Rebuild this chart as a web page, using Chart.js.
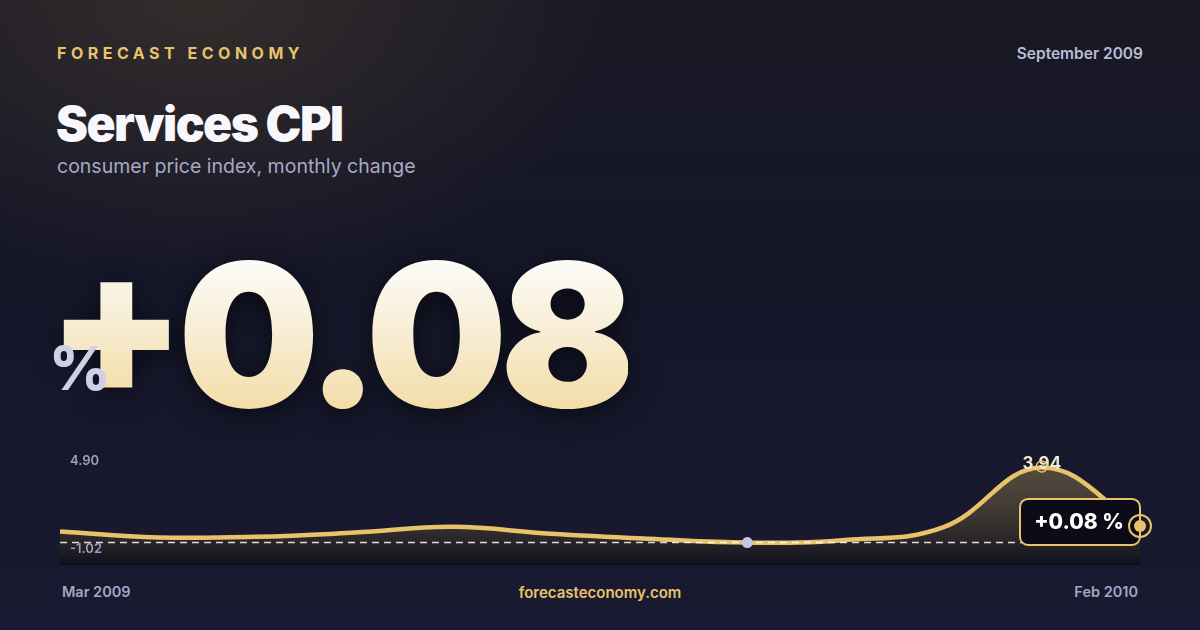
<!DOCTYPE html>
<html>
<head>
<meta charset="utf-8">
<script src="https://cdn.jsdelivr.net/npm/chart.js@4.4.1/dist/chart.umd.min.js"></script>
<style>
  html, body { margin: 0; padding: 0; }
  body {
    width: 1200px; height: 630px; overflow: hidden; position: relative;
    font-family: Inter, "Noto Sans", sans-serif;
    background:
      radial-gradient(ellipse 560px 380px at 200px 0px, rgba(120, 95, 60, 0.28), rgba(120, 95, 60, 0) 75%),
      linear-gradient(180deg, #191925 0%, #151628 45%, #191a31 100%);
  }
  .brand { position: absolute; left: 57px; top: 43px; font-size: 16px; font-weight: 700; letter-spacing: 4.5px; color: #e8c36a; }
  .date { position: absolute; right: 57px; top: 44px; font-size: 15.5px; font-weight: 600; color: #b9bcd6; }
  .title { position: absolute; left: 56px; top: 94px; font-size: 48px; font-weight: 900; color: #f8f8fc; letter-spacing: -1.5px; line-height: 60px; }
  .sub { position: absolute; left: 57px; top: 154px; font-size: 19.5px; font-weight: 400; color: #a7a9c7; }
  .big {
    position: absolute; left: 47px; top: 234px; font-size: 200px; font-weight: 900; line-height: 1;
    letter-spacing: -8px; white-space: nowrap;
    filter: drop-shadow(0 6px 14px rgba(0, 0, 0, 0.55));
  }
  .big span {
    display: inline-block;
    background: linear-gradient(180deg, #fdfcfa 12%, #f6e9c8 60%, #f2d899 100%);
    -webkit-background-clip: text; background-clip: text; color: transparent;
  }
  .big .plus { position: relative; top: -13px; }
  .pct { position: absolute; left: 49px; top: 338px; font-size: 60px; font-weight: 800; color: #cdd0e6; line-height: 1; }
  .chartbox { position: absolute; left: 40px; top: 440px; width: 1120px; height: 135px; }
  .foot { position: absolute; top: 583px; font-size: 14.5px; font-weight: 600; color: #a3a6c4; }
</style>
</head>
<body>
<div class="brand">FORECAST ECONOMY</div>
<div class="date">September 2009</div>
<div class="title">Services CPI</div>
<div class="sub">consumer price index, monthly change</div>
<div class="big"><span class="plus">+</span><span>0.08</span></div>
<div class="pct">%</div>
<div class="chartbox"><canvas id="spark"></canvas></div>
<div class="foot" style="left:62px">Mar 2009</div>
<div class="foot" style="left:0;width:1200px;text-align:center;color:#e8c36a;font-size:15px">forecasteconomy.com</div>
<div class="foot" style="right:62px">Feb 2010</div>

<script>
// monthly change, Mar 2009 .. Feb 2010
const months = ['Mar 2009', 'Apr 2009', 'May 2009', 'Jun 2009', 'Jul 2009', 'Aug 2009',
                'Sep 2009', 'Oct 2009', 'Nov 2009', 'Dec 2009', 'Jan 2010', 'Feb 2010'];
const cpiChange = [-0.29, -0.68, -0.64, -0.36, 0.02, -0.44, -0.77, -1.02, -0.85, 0.0, 3.94, 0.08];
const axisTop = 4.90;
const axisBottom = -2.5;

const GOLD = '#e8c36a';

// markers, min line, value labels and the current-value badge
const sparkDecor = {
  id: 'sparkDecor',
  afterDatasetsDraw(chart) {
    const { ctx, chartArea, scales } = chart;
    const pts = chart.getDatasetMeta(0).data;
    const minV = Math.min(...cpiChange);
    const maxV = Math.max(...cpiChange);
    const minI = cpiChange.indexOf(minV);
    const maxI = cpiChange.indexOf(maxV);
    const lastI = cpiChange.length - 1;
    const yMin = scales.y.getPixelForValue(minV);

    ctx.save();
    // dashed line at the minimum
    ctx.strokeStyle = 'rgba(255,255,255,0.85)';
    ctx.lineWidth = 1.5;
    ctx.setLineDash([7, 5]);
    ctx.beginPath();
    ctx.moveTo(chartArea.left, yMin);
    ctx.lineTo(chartArea.right, yMin);
    ctx.stroke();
    ctx.setLineDash([]);

    // axis labels
    ctx.font = '600 13px Inter';
    ctx.fillStyle = '#9c9fbd';
    ctx.textAlign = 'left';
    ctx.textBaseline = 'top';
    ctx.fillText(axisTop.toFixed(2), chartArea.left + 10, scales.y.getPixelForValue(axisTop) + 2);
    ctx.fillText(minV.toFixed(2), chartArea.left + 10, yMin);

    // min dot
    ctx.fillStyle = '#c4c7e0';
    ctx.beginPath();
    ctx.arc(pts[minI].x, pts[minI].y, 5.5, 0, Math.PI * 2);
    ctx.fill();

    // max label + hollow ring
    ctx.font = '700 17px Inter';
    ctx.fillStyle = '#efe9dc';
    ctx.textAlign = 'center';
    ctx.textBaseline = 'alphabetic';
    ctx.fillText(maxV.toFixed(2), pts[maxI].x, pts[maxI].y + 1);
    ctx.strokeStyle = GOLD;
    ctx.lineWidth = 1.5;
    ctx.beginPath();
    ctx.arc(pts[maxI].x, pts[maxI].y - 1, 5.5, 0, Math.PI * 2);
    ctx.stroke();

    // current value badge
    const p = pts[lastI];
    const bw = 120, bh = 46;
    const bx = p.x - bw, by = p.y - 27;
    ctx.fillStyle = '#0b0c17';
    ctx.strokeStyle = GOLD;
    ctx.lineWidth = 2;
    ctx.beginPath();
    ctx.roundRect(bx, by, bw, bh, 8);
    ctx.fill();
    ctx.stroke();
    const v = cpiChange[lastI];
    ctx.font = '800 21px Inter';
    ctx.fillStyle = '#ffffff';
    ctx.textAlign = 'center';
    ctx.textBaseline = 'middle';
    ctx.fillText((v >= 0 ? '+' : '') + v.toFixed(2) + ' %', bx + bw / 2 - 1, by + bh / 2 + 1);

    // last point
    ctx.strokeStyle = GOLD;
    ctx.lineWidth = 2;
    ctx.beginPath();
    ctx.arc(p.x, p.y, 11, 0, Math.PI * 2);
    ctx.stroke();
    ctx.fillStyle = GOLD;
    ctx.beginPath();
    ctx.arc(p.x, p.y, 6, 0, Math.PI * 2);
    ctx.fill();
    ctx.restore();
  }
};

const canvas = document.getElementById('spark');
new Chart(canvas, {
  type: 'line',
  data: {
    labels: months,
    datasets: [{
      data: cpiChange,
      borderColor: GOLD,
      borderWidth: 4.5,
      tension: 0.4,
      pointRadius: 0,
      fill: 'start',
      backgroundColor: (c) => {
        const area = c.chart.chartArea;
        if (!area) return 'rgba(232,195,106,0.15)';
        const g = c.chart.ctx.createLinearGradient(0, area.top, 0, area.bottom);
        g.addColorStop(0, 'rgba(232,195,106,0.30)');
        g.addColorStop(1, 'rgba(10,9,14,0.55)');
        return g;
      }
    }]
  },
  options: {
    responsive: true,
    maintainAspectRatio: false,
    animation: false,
    layout: { padding: { left: 20, right: 20, top: 13, bottom: 10 } },
    scales: {
      x: { display: false },
      y: { display: false, min: axisBottom, max: axisTop }
    },
    plugins: { legend: { display: false }, tooltip: { enabled: false } }
  },
  plugins: [sparkDecor]
});
</script>
</body>
</html>
